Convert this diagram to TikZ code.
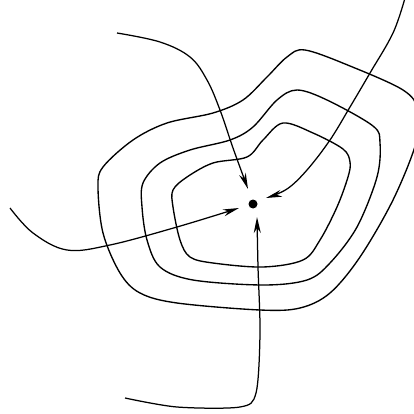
\documentclass[tikz,border=0pt]{standalone}
\usetikzlibrary{arrows.meta}
\begin{document}
\begin{tikzpicture}[x=1pt,y=-1pt,
  contour/.style={line width=1.35pt,line join=round},
  flow/.style={line width=1.25pt,-{Stealth[length=16pt,width=7pt,inset=5pt]}},
  sink/.style={circle,fill=black,inner sep=0pt,minimum size=9pt}]
\useasboundingbox (0,0) rectangle (414,414);
\clip (0,0) rectangle (414,414);
\node[sink] (p) at (253,204) {};
% contours
\draw[contour] plot[smooth cycle,tension=0.55] coordinates {
 (305,50) (350,66) (403,90) (418,110) (416,143) (393,200) (360,257) (330,293) (300,308)
 (260,310) (177,303) (140,293) (120,273) (103,233) (98,187) (103,167) (133,140) (167,123)
 (213,113) (243,100) (267,77) (287,57)};
\draw[contour] plot[smooth cycle,tension=0.55] coordinates {
 (297,90) (327,100) (373,126) (380,143) (377,177) (357,227) (330,263) (307,280)
 (263,285) (193,280) (160,267) (147,240) (142,207) (143,183) (160,163) (190,150)
 (230,140) (253,127) (277,100)};
\draw[contour] plot[smooth cycle,tension=0.55] coordinates {
 (283,123) (313,133) (343,149) (350,162) (348,177) (337,207) (320,240) (303,260)
 (263,267) (213,263) (190,257) (180,240) (173,207) (173,190) (187,177) (213,163)
 (247,157) (263,140)};
% flow lines
\coordinate (s1) at (117,33);
\coordinate (s2) at (405,-2);
\coordinate (s3) at (10,208);
\coordinate (s4) at (125,398);
\coordinate (e1) at (248,189);
\coordinate (e2) at (266,198);
\coordinate (e3) at (239,208);
\coordinate (e4) at (257,217);
\draw[flow] plot[smooth,tension=0.6] coordinates {(s1) (160,42) (190,57) (207,80) (220,110) (233,148) (e1)};
\draw[flow] plot[smooth,tension=0.6] coordinates {(s2) (393,33) (370,73) (350,107) (330,140) (307,170) (287,189) (e2)};
\draw[flow] plot[smooth,tension=0.6] coordinates {(s3) (33,233) (67,250) (110,245) (177,227) (e3)};
\draw[flow] plot[smooth,tension=0.5] coordinates {(s4) (177,407) (240,407) (256,393) (260,333) (258,267) (e4)};
\end{tikzpicture}
\end{document}
